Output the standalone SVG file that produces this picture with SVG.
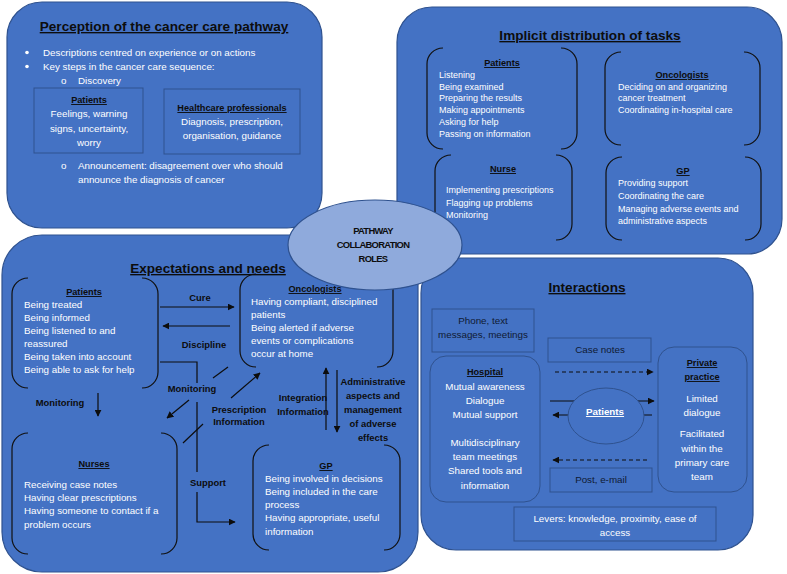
<svg xmlns="http://www.w3.org/2000/svg" width="787" height="574" viewBox="0 0 787 574">
<defs>
<marker id="ah" viewBox="0 0 10 10" refX="9" refY="5" markerWidth="7" markerHeight="7" markerUnits="userSpaceOnUse" orient="auto">
<path d="M0,0 L10,5 L0,10 z" fill="#0d0d0d"/>
</marker>
</defs>
<style>
.panel{fill:#4472C4;stroke:#2F528F;stroke-width:1.2}
.box{fill:#4472C4;stroke:#2F528F;stroke-width:1}
.br{fill:none;stroke:#111;stroke-width:1.2}
.ptitle{font-family:"Liberation Sans",Arial,sans-serif;font-size:13.6px;font-weight:bold;fill:#0d0d0d;text-decoration:underline;text-anchor:middle}
.t{font-family:"Liberation Sans",Arial,sans-serif;font-size:9.8px;fill:#ffffff}
.ts{font-family:"Liberation Sans",Arial,sans-serif;font-size:9px;fill:#ffffff}
.c{text-anchor:middle}
.bt{font-family:"Liberation Sans",Arial,sans-serif;font-size:9.2px;font-weight:bold;fill:#0d0d0d;text-decoration:underline;text-anchor:middle}
.lbl{font-family:"Liberation Sans",Arial,sans-serif;font-size:9.4px;font-weight:bold;fill:#0d0d0d;text-anchor:middle}
.dk{font-family:"Liberation Sans",Arial,sans-serif;font-size:9.8px;fill:#0f1a33;text-anchor:middle}
.conn{fill:none;stroke:#0d0d0d;stroke-width:1.2}
.dash{stroke-dasharray:4 3}
</style>

<!-- Panel 1: Perception -->
<g id="perception">
<rect class="panel" x="7" y="2" width="315" height="226" rx="35"/>
<text class="ptitle" x="164" y="31">Perception of the cancer care pathway</text>
<circle cx="27" cy="52.5" r="1.8" fill="#fff"/>
<circle cx="27" cy="66.5" r="1.8" fill="#fff"/>
<text class="t" x="43" y="55.5">Descriptions centred on experience or on actions</text>
<text class="t" x="43" y="70">Key steps in the cancer care sequence:</text>
<text class="t" x="61" y="84">o</text>
<text class="t" x="78" y="84">Discovery</text>
<g id="perc-patients">
<rect class="box" x="34" y="88" width="109" height="65"/>
<text class="bt" x="89" y="103">Patients</text>
<text class="t c" x="89" y="117">Feelings, warning</text>
<text class="t c" x="89" y="132">signs, uncertainty,</text>
<text class="t c" x="89" y="146">worry</text>
</g>
<g id="perc-hcp">
<rect class="box" x="164" y="89" width="136" height="65"/>
<text class="bt" x="232" y="111">Healthcare professionals</text>
<text class="t c" x="232" y="125">Diagnosis, prescription,</text>
<text class="t c" x="232" y="139">organisation, guidance</text>
</g>
<text class="t" x="61" y="169">o</text>
<text class="t" x="78" y="169">Announcement: disagreement over who should</text>
<text class="t" x="78" y="183">announce the diagnosis of cancer</text>
</g>

<!-- Panel 2: Implicit distribution -->
<g id="tasks">
<rect class="panel" x="397" y="7" width="385" height="247" rx="35"/>
<text class="ptitle" x="590" y="40">Implicit distribution of tasks</text>
<g id="tasks-patients">
<path class="br" d="M443,48 A16,16 0 0 0 427,64 V133 A16,16 0 0 0 443,149 M561,48 A16,16 0 0 1 577,64 V133 A16,16 0 0 1 561,149"/>
<text class="bt" x="502" y="66">Patients</text>
<text class="ts" x="439" y="78">Listening</text>
<text class="ts" x="439" y="90">Being examined</text>
<text class="ts" x="439" y="101">Preparing the results</text>
<text class="ts" x="439" y="113">Making appointments</text>
<text class="ts" x="439" y="125">Asking for help</text>
<text class="ts" x="439" y="137">Passing on information</text>
</g>
<g id="tasks-oncologists">
<path class="br" d="M621,52 A16,16 0 0 0 605,68 V129 A16,16 0 0 0 621,145 M744,52 A16,16 0 0 1 760,68 V129 A16,16 0 0 1 744,145"/>
<text class="bt" x="682" y="78">Oncologists</text>
<text class="ts" x="618" y="90">Deciding on and organizing</text>
<text class="ts" x="618" y="101">cancer treatment</text>
<text class="ts" x="618" y="113">Coordinating in-hospital care</text>
</g>
<g id="tasks-nurse">
<path class="br" d="M451,155 A16,16 0 0 0 435,171 V224 A16,16 0 0 0 451,240 M556,155 A16,16 0 0 1 572,171 V224 A16,16 0 0 1 556,240"/>
<text class="bt" x="503" y="172">Nurse</text>
<text class="ts" x="446" y="193">Implementing prescriptions</text>
<text class="ts" x="446" y="206">Flagging up problems</text>
<text class="ts" x="446" y="218">Monitoring</text>
</g>
<g id="tasks-gp">
<path class="br" d="M622,157 A16,16 0 0 0 606,173 V224 A16,16 0 0 0 622,240 M745,157 A16,16 0 0 1 761,173 V224 A16,16 0 0 1 745,240"/>
<text class="bt" x="683" y="174">GP</text>
<text class="ts" x="618" y="186">Providing support</text>
<text class="ts" x="618" y="199">Coordinating the care</text>
<text class="ts" x="618" y="212">Managing adverse events and</text>
<text class="ts" x="618" y="224">administrative aspects</text>
</g>
</g>

<!-- Panel 3: Expectations and needs -->
<g id="expectations">
<rect class="panel" x="2" y="235" width="416" height="337" rx="40"/>
<text class="ptitle" x="208" y="273">Expectations and needs</text>
<g id="exp-patients">
<path class="br" d="M28,278 A16,16 0 0 0 12,294 V372 A16,16 0 0 0 28,388 M142,278 A16,16 0 0 1 158,294 V372 A16,16 0 0 1 142,388"/>
<text class="bt" x="84" y="295">Patients</text>
<text class="t" x="24" y="308">Being treated</text>
<text class="t" x="24" y="321">Being informed</text>
<text class="t" x="24" y="334">Being listened to and</text>
<text class="t" x="24" y="347">reassured</text>
<text class="t" x="24" y="360">Being taken into account</text>
<text class="t" x="24" y="373">Being able to ask for help</text>
</g>
<g id="exp-oncologists">
<path class="br" d="M256,274 A16,16 0 0 0 240,290 V351 A16,16 0 0 0 256,367 M377,274 A16,16 0 0 1 393,290 V351 A16,16 0 0 1 377,367"/>
<text class="bt" x="315" y="292">Oncologists</text>
<text class="t" x="251" y="305">Having compliant, disciplined</text>
<text class="t" x="251" y="318">patients</text>
<text class="t" x="251" y="331">Being alerted if adverse</text>
<text class="t" x="251" y="344">events or complications</text>
<text class="t" x="251" y="357">occur at home</text>
</g>
<g id="exp-nurses">
<path class="br" d="M28,433 A16,16 0 0 0 12,449 V538 A16,16 0 0 0 28,554 M161,433 A16,16 0 0 1 177,449 V538 A16,16 0 0 1 161,554"/>
<text class="bt" x="94" y="467">Nurses</text>
<text class="t" x="24" y="488">Receiving case notes</text>
<text class="t" x="24" y="501">Having clear prescriptions</text>
<text class="t" x="24" y="514">Having someone to contact if a</text>
<text class="t" x="24" y="528">problem occurs</text>
</g>
<g id="exp-gp">
<path class="br" d="M269,445 A16,16 0 0 0 253,461 V534 A16,16 0 0 0 269,550 M384,445 A16,16 0 0 1 400,461 V534 A16,16 0 0 1 384,550"/>
<text class="bt" x="326" y="469">GP</text>
<text class="t" x="265" y="482">Being involved in decisions</text>
<text class="t" x="265" y="495">Being included in the care</text>
<text class="t" x="265" y="508">process</text>
<text class="t" x="265" y="521">Having appropriate, useful</text>
<text class="t" x="265" y="535">information</text>
</g>
<g id="exp-labels">
<text class="lbl" x="200" y="301">Cure</text>
<text class="lbl" x="204" y="348">Discipline</text>
<text class="lbl" x="192" y="392">Monitoring</text>
<text class="lbl" x="60" y="406">Monitoring</text>
<text class="lbl" x="239" y="413">Prescription</text>
<text class="lbl" x="239" y="425">Information</text>
<text class="lbl" x="303" y="401">Integration</text>
<text class="lbl" x="303" y="415">Information</text>
<text class="lbl" x="373" y="385">Administrative</text>
<text class="lbl" x="373" y="399">aspects and</text>
<text class="lbl" x="373" y="413">management</text>
<text class="lbl" x="373" y="427">of adverse</text>
<text class="lbl" x="373" y="441">effects</text>
<text class="lbl" x="208" y="486">Support</text>
</g>
</g>

<!-- Panel 4: Interactions -->
<g id="interactions">
<rect class="panel" x="421" y="258" width="332" height="292" rx="35"/>
<text class="ptitle" x="587" y="292">Interactions</text>
<g id="int-phone">
<rect class="box" x="432" y="309" width="102" height="43"/>
<text class="dk" x="483" y="324">Phone, text</text>
<text class="dk" x="483" y="338">messages, meetings</text>
</g>
<g id="int-casenotes">
<rect class="box" x="548" y="338" width="103" height="24"/>
<text class="dk" x="600" y="353">Case notes</text>
</g>
<g id="int-hospital">
<rect class="box" x="430" y="356" width="110" height="146" rx="16"/>
<text class="bt" x="485" y="375">Hospital</text>
<text class="t c" x="485" y="390">Mutual awareness</text>
<text class="t c" x="485" y="404">Dialogue</text>
<text class="t c" x="485" y="418">Mutual support</text>
<text class="t c" x="485" y="446">Multidisciplinary</text>
<text class="t c" x="485" y="460">team meetings</text>
<text class="t c" x="485" y="474">Shared tools and</text>
<text class="t c" x="485" y="489">information</text>
</g>
<g id="int-private">
<rect class="box" x="658" y="347" width="89" height="145" rx="16"/>
<text class="bt" x="702" y="366">Private</text>
<text class="bt" x="702" y="380">practice</text>
<text class="t c" x="702" y="402">Limited</text>
<text class="t c" x="702" y="416">dialogue</text>
<text class="t c" x="702" y="437">Facilitated</text>
<text class="t c" x="702" y="452">within the</text>
<text class="t c" x="702" y="466">primary care</text>
<text class="t c" x="702" y="480">team</text>
</g>
<g id="int-post">
<rect class="box" x="550" y="468" width="102" height="24"/>
<text class="dk" x="601" y="483">Post, e-mail</text>
</g>
<g id="int-levers">
<rect class="box" x="514" y="507" width="202" height="34"/>
<text class="t c" x="615" y="522">Levers: knowledge, proximity, ease of</text>
<text class="t c" x="615" y="536">access</text>
</g>
</g>

<!-- Connectors -->
<g id="connectors">
<path class="conn" d="M160,307 H234" marker-end="url(#ah)"/>
<path class="conn" d="M230,326 H163" marker-end="url(#ah)"/>
<path class="conn" d="M160,362 H197 V383 M197,402 V472"/>
<path class="conn" d="M197,492 V522 H235" marker-end="url(#ah)"/>
<path class="conn" d="M98,393 V416" marker-end="url(#ah)"/>
<path class="conn" d="M228,367 L213,378"/>
<path class="conn" d="M189,400 L167,418" marker-end="url(#ah)"/>
<path class="conn" d="M183,443 L203,424"/>
<path class="conn" d="M231,398 L260,373" marker-end="url(#ah)"/>
<path class="conn" d="M326,430 V368" marker-end="url(#ah)"/>
<path class="conn" d="M337,370 V432" marker-end="url(#ah)"/>
<path class="conn dash" d="M555,372 H653" marker-end="url(#ah)"/>
<path class="conn" d="M550,401 H654" marker-end="url(#ah)"/>
<path class="conn" d="M652,415 H553" marker-end="url(#ah)"/>
<path class="conn dash" d="M647,460 H553" marker-end="url(#ah)"/>
</g>

<g id="int-patients">
<ellipse class="box" cx="606" cy="416" rx="38" ry="28"/>
<text class="t c" x="605" y="415" font-weight="bold" text-decoration="underline">Patients</text>
</g>

<g id="center">
<ellipse cx="375" cy="245" rx="87" ry="45" fill="#8FAADC" stroke="#2F528F" stroke-width="1.2"/>
<text class="lbl" x="373" y="234" font-size="8.2" letter-spacing="-0.7">PATHWAY</text>
<text class="lbl" x="373" y="248" font-size="8.2" letter-spacing="-0.7">COLLABORATION</text>
<text class="lbl" x="373" y="262" font-size="8.2" letter-spacing="-0.7">ROLES</text>
</g>
</svg>
